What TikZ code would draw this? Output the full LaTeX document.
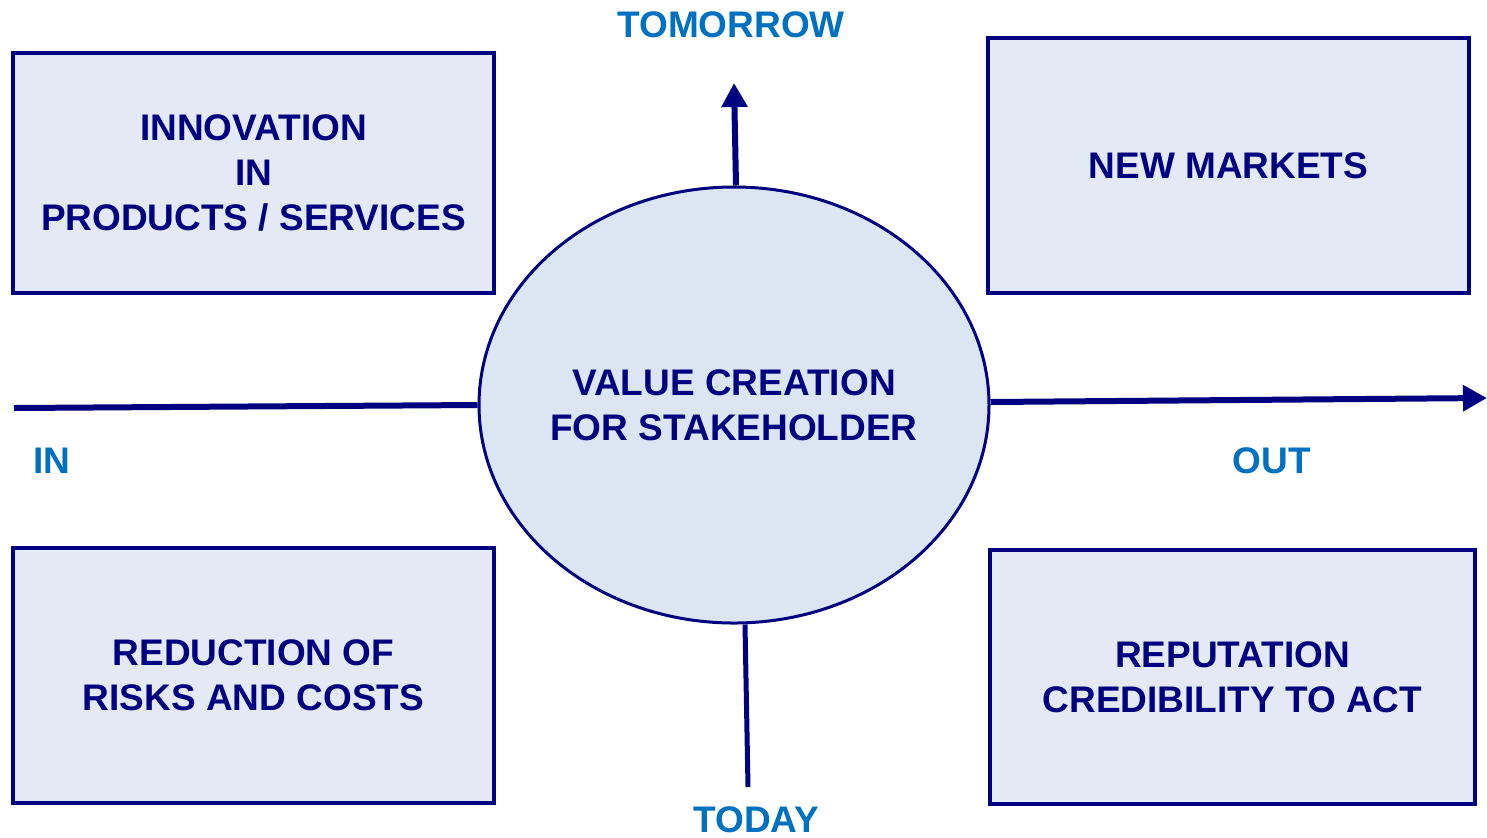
\documentclass[tikz,border=0pt]{standalone}
\usepackage{fontspec}
\setmainfont{Liberation Sans}
\usetikzlibrary{arrows.meta,shapes.geometric}
\definecolor{navy}{HTML}{000080}
\definecolor{boxfill}{HTML}{E3EAF5}
\definecolor{ellfill}{HTML}{DCE6F2}
\definecolor{lblue}{HTML}{0070C0}
\begin{document}
\begin{tikzpicture}[x=0.5pt,y=-0.5pt,
  txt/.style={text=navy,font=\fontsize{18.5}{22.5}\selectfont\bfseries,align=center},
  box/.style={txt,draw=navy,fill=boxfill,line width=2pt,inner sep=0pt},
  lbl/.style={text=lblue,font=\fontsize{18.5}{22.5}\selectfont\bfseries,inner sep=0pt},
  axis/.style={draw=navy,line width=3pt},
  tip/.style={-{Triangle[width=12.5pt,length=12pt]}}]
\useasboundingbox (0,0) rectangle (1487,837);
\node[box,minimum width=240.5pt,minimum height=120pt] (innov) at (253.5,173) {INNOVATION\\IN\\PRODUCTS / SERVICES};
\node[box,minimum width=240.5pt,minimum height=127.5pt] (markets) at (1228.5,165.5) {NEW MARKETS};
\node[box,minimum width=240.5pt,minimum height=127.5pt] (risks) at (253.5,675.5) {REDUCTION OF\\RISKS AND COSTS};
\node[box,minimum width=242.5pt,minimum height=127pt] (rep) at (1232.5,677) {REPUTATION\\CREDIBILITY TO ACT};
\node[ellipse,draw=navy,fill=ellfill,line width=1.5pt,minimum width=255pt,minimum height=218pt,inner sep=0pt] (value) at (734,405) {};
\node[txt,inner sep=0pt] (valuetext) at (value.center) {VALUE CREATION\\FOR STAKEHOLDER};
\coordinate (inend) at (14,408);
\coordinate (outend) at (1487,398);
\coordinate (topend) at (734,83);
\coordinate (botend) at (748,787);
\draw[axis] (inend) -- (value.west);
\draw[axis,tip] (value.east) ++(0,-3) -- (outend);
\draw[axis,tip] (value.north) ++(2,0) -- (topend);
\draw[draw=navy,line width=2.5pt] (value.south) ++(11,0) -- (botend);
\node[lbl] (tomorrow) at (731,25) {TOMORROW};
\node[lbl] (inlbl) at (52,461) {IN};
\node[lbl] (outlbl) at (1272,461) {OUT};
\node[lbl] (today) at (756,820) {TODAY};
\end{tikzpicture}
\end{document}
